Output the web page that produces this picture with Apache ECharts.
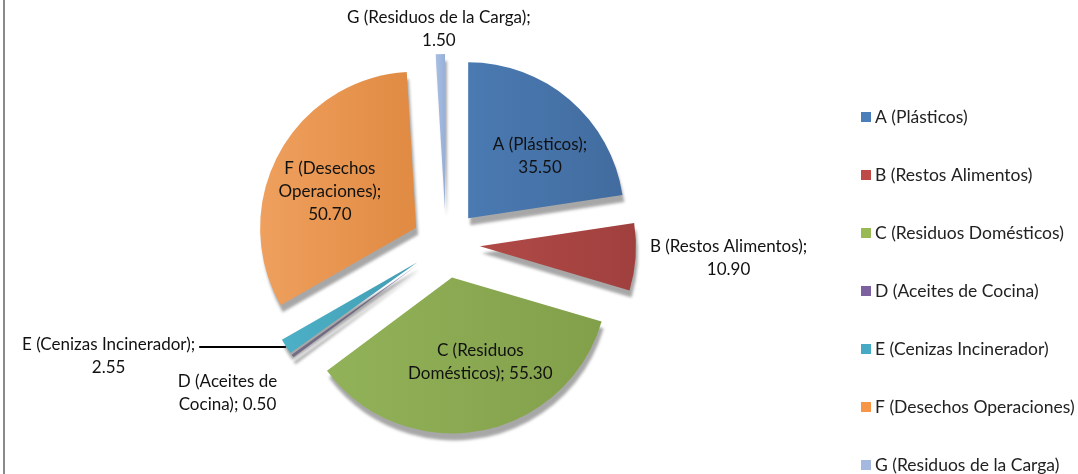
<!DOCTYPE html>
<html>
<head>
<meta charset="utf-8">
<script src="https://cdn.jsdelivr.net/npm/echarts@6/dist/echarts.min.js"></script>
<style>
  html, body { margin: 0; padding: 0; background: #fff; }
  #chart { width: 1078px; height: 474px; position: relative; }
  .edge { position: absolute; left: 3px; top: 0; width: 2px; height: 474px; background: #8a8a8a; z-index: 2; }
</style>
</head>
<body>
<div class="edge"></div>
<div id="chart"></div>
<script>
// categories and values
const categories = ['A (Plásticos)', 'B (Restos Alimentos)', 'C (Residuos Domésticos)',
  'D (Aceites de Cocina)', 'E (Cenizas Incinerador)', 'F (Desechos Operaciones)', 'G (Residuos de la Carga)'];
const values = [35.50, 10.90, 55.30, 0.50, 2.55, 50.70, 1.50];
// how each data label is wrapped in the original
const labelText = ['A (Plásticos);\n35.50', 'B (Restos Alimentos);\n10.90', 'C (Residuos\nDomésticos); 55.30',
  'D (Aceites de\nCocina); 0.50', 'E (Cenizas Incinerador);\n2.55', 'F (Desechos\nOperaciones);\n50.70',
  'G (Residuos de la Carga);\n1.50'];

// light/dark ends of each slice's shading
const sliceLight = ['#4a7ab2', '#b04a47', '#92b259', '#a293c2', '#4cb0c6', '#efa05e', '#a8bfe4'];
const sliceDark = ['#426c9f', '#a0403e', '#82a04a', '#9280b2', '#429db3', '#e08a42', '#98b0d8'];
const legendColors = ['#4a7ebb', '#be4b48', '#98b954', '#7d60a0', '#46aac5', '#f79646', '#a5b9e0'];

const font = 'Lato, "Open Sans", sans-serif';

// labels nudged from where echarts puts them, as they were dragged in the original
const nudge = [[19, -1], [43, 0], [14, 5], [-18, 28], [0, 9], [-15, 2], [34, -10]];
const outside = [1, 3, 4, 6];

let chart = echarts.init(document.getElementById('chart'));
chart.setOption({
  backgroundColor: '#fff',
  animation: false,
  legend: {
    orient: 'vertical',
    left: 861,
    top: 108,
    padding: 0,
    itemWidth: 10,
    itemHeight: 10,
    itemGap: 40,
    icon: 'rect',
    textStyle: { fontFamily: font, fontSize: 17.5, color: '#222', lineHeight: 18, padding: [0, 0, 0, -1] },
    data: categories.map((c, i) => ({ name: c, itemStyle: { color: legendColors[i] } }))
  },
  series: [{
    type: 'pie',
    center: [446, 244],
    radius: [0, 156],
    startAngle: 90,
    avoidLabelOverlap: false,
    selectedMode: 'multiple',
    selectedOffset: 34,
    emphasis: { scale: false },
    itemStyle: {
      shadowColor: 'rgba(60,60,60,0.45)',
      shadowBlur: 3,
      shadowOffsetX: 2,
      shadowOffsetY: 7
    },
    label: {
      position: 'inner',
      fontFamily: font,
      fontSize: 17,
      lineHeight: 23,
      color: '#111',
      align: 'center',
      formatter: p => labelText[p.dataIndex]
    },
    labelLine: { show: false },
    labelLayout: p => {
      const i = p.dataIndex;
      if (outside.indexOf(i) < 0) return { dx: nudge[i][0], dy: nudge[i][1] };
      // E keeps its leader line; its text sits left of the line end
      if (i === 4) return { align: 'center', dx: -p.labelRect.width / 2, dy: nudge[i][1] };
      return { align: 'center', dx: nudge[i][0], dy: nudge[i][1] };
    },
    data: categories.map((c, i) => {
      const item = {
        name: c,
        value: values[i],
        selected: true,
        itemStyle: {
          color: new echarts.graphic.LinearGradient(0, 0, 1, 0, [
            { offset: 0, color: sliceLight[i] },
            { offset: 1, color: sliceDark[i] }
          ])
        }
      };
      if (outside.indexOf(i) >= 0) {
        item.label = { position: 'outside' };
      }
      if (i === 4) {
        item.label.distanceToLabelLine = 4;
        item.labelLine = { show: true, length: 1, length2: 86, lineStyle: { color: '#000', width: 2 } };
      }
      return item;
    })
  }]
});
</script>
</body>
</html>
